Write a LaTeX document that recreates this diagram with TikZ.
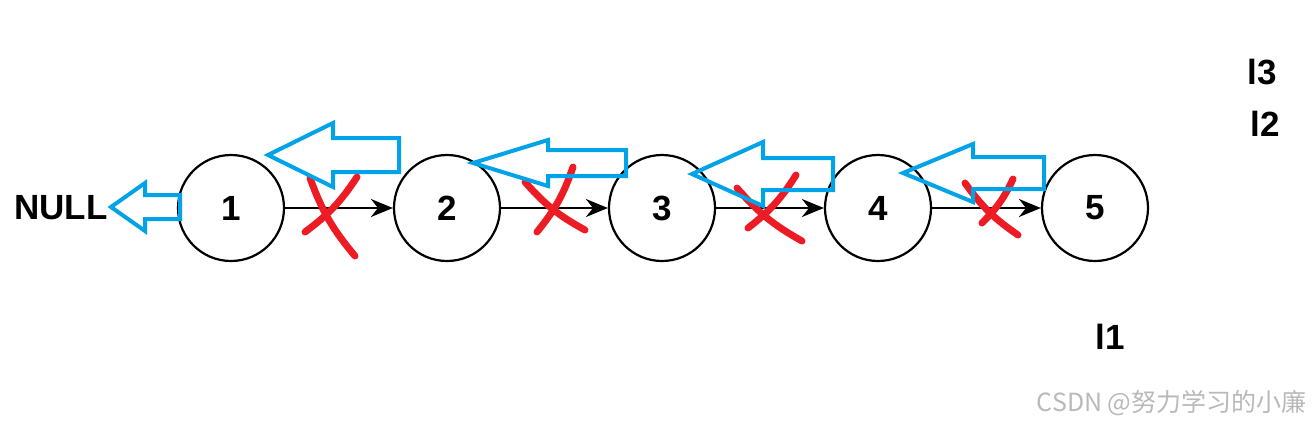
\documentclass[tikz,border=0pt]{standalone}
\usepackage{fontspec}
\setmainfont{Liberation Sans}
\newfontfamily\cjkfont{Noto Sans CJK SC}
\usetikzlibrary{arrows.meta}
\definecolor{revblue}{RGB}{0,162,232}
\definecolor{crossred}{RGB}{237,28,36}

\begin{document}
\begin{tikzpicture}[
  x=0.5pt, y=-0.5pt,
  >={Stealth[length=11pt, width=9pt]},
  every node/.style={font=\bfseries\fontsize{17.5}{20}\selectfont},
  elem/.style  = {circle, draw, line width=1.1pt, minimum size=53pt, inner sep=0pt},
  link/.style  = {->, line width=1.1pt},
  rev/.style   = {draw=revblue, line width=2pt, line join=miter},
  cross/.style = {draw=crossred, line width=3.5pt, line cap=round},
]
  \useasboundingbox (0,0) rectangle (1312,424);

  % list nodes 1..5 and the old next pointers
  \foreach \i/\x in {1/231, 2/447, 3/662, 4/878, 5/1095}
    \node[elem] (n\i) at (\x,208) {\i};
  \foreach \a/\b in {n1/n2, n2/n3, n3/n4, n4/n5}
    \draw[link] (\a) -- (\b);

  \node[anchor=east, inner sep=0pt] (null) at (108,208) {NULL};
  \node (l3) at (1262,72)  {l3};
  \node (l2) at (1265,124) {l2};
  \node (l1) at (1110,337) {l1};

  % crossed out links
  \foreach \ax/\ay/\bx/\by/\cx/\cy/\dx/\dy in {357/177/305/232/310/178/355/256,
      573/167/537/232/525/182/585/230, 796/175/748/228/737/188/802/241,
      1013/179/982/223/965/183/1018/235} {
    \draw[cross] (\ax,\ay) to[bend left=10] (\bx,\by);
    \draw[cross] (\cx,\cy) to[bend right=10] (\dx,\dy);
  }

  % reversed links (hollow arrows)
  \foreach \tx/\ty/\hx/\hh/\sx/\sh in {268/155/333/32/399/17, 473/163/548/23/626/13,
      692/174/763/32/833/16, 903/173/973/29/1044/16, 111/207/145/24/180/12}
    \draw[rev] (\tx,\ty) -- (\hx,\ty-\hh) -- (\hx,\ty-\sh) -- (\sx,\ty-\sh)
      -- (\sx,\ty+\sh) -- (\hx,\ty+\sh) -- (\hx,\ty+\hh) -- cycle;

  \node[anchor=east, inner sep=0pt, text=gray!55,
    font=\cjkfont\fontsize{12.5}{14}\selectfont] (mark) at (1307,403) {CSDN @努力学习的小廉};
\end{tikzpicture}
\end{document}
